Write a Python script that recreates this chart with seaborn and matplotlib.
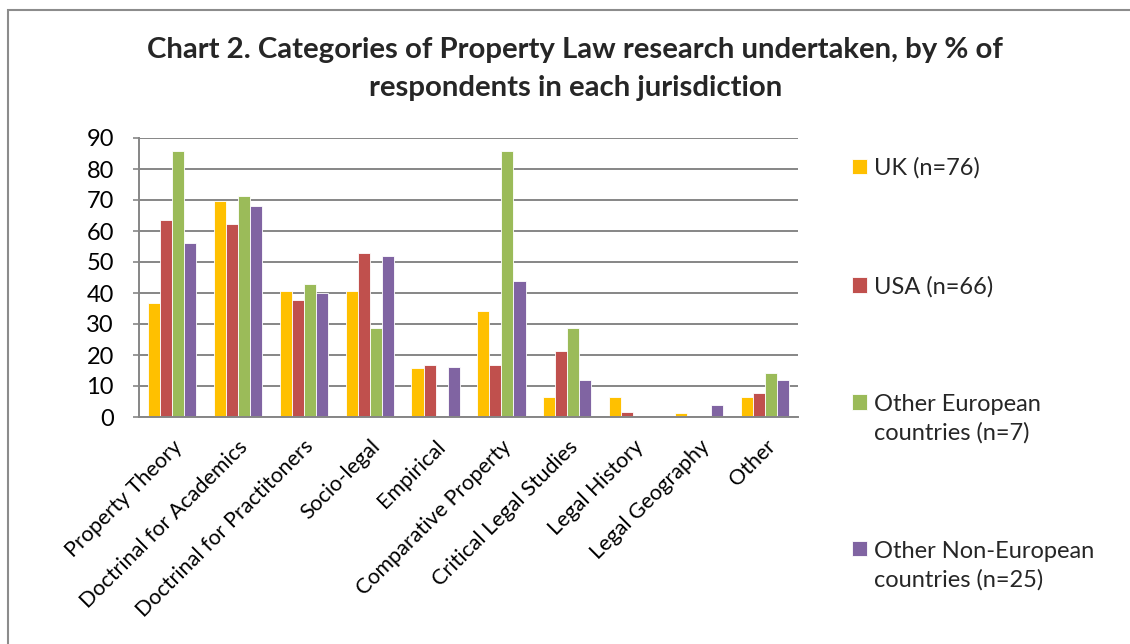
import matplotlib
matplotlib.use("Agg")
import matplotlib.pyplot as plt
from matplotlib.patches import Rectangle
import pandas as pd
import seaborn as sns

# Research categories and share of respondents (%) per jurisdiction
categories = [
    "Property Theory", "Doctrinal for Academics", "Doctrinal for Practitoners",
    "Socio-legal", "Empirical", "Comparative Property", "Critical Legal Studies",
    "Legal History", "Legal Geography", "Other",
]
uk = [36.8, 69.7, 40.8, 40.8, 15.8, 34.2, 6.6, 6.6, 1.3, 6.6]
usa = [63.6, 62.1, 37.9, 53.0, 16.7, 16.7, 21.2, 1.5, 0.0, 7.6]
other_european = [85.7, 71.4, 42.9, 28.6, 0.0, 85.7, 28.6, 0.0, 0.0, 14.3]
other_non_european = [56.0, 68.0, 40.0, 52.0, 16.0, 44.0, 12.0, 0.0, 4.0, 12.0]

series_labels = [
    "UK (n=76)",
    "USA (n=66)",
    "Other European\ncountries (n=7)",
    "Other Non-European\ncountries (n=25)",
]
palette = ["#FFC000", "#C0504D", "#9BBB59", "#8064A2"]
title = ("Chart 2. Categories of Property Law research undertaken, by % of\n"
         "respondents in each jurisdiction")

rows = []
for label, values in zip(series_labels, [uk, usa, other_european, other_non_european]):
    for cat, v in zip(categories, values):
        rows.append({"Category": cat, "Percent": v, "Jurisdiction": label})
df = pd.DataFrame(rows)

sns.set_theme(style="white")
plt.rcParams["font.family"] = ["Lato", "DejaVu Sans"]

grid_col = "#868686"

fig = plt.figure(figsize=(11.3, 6.44), dpi=100)
ax = fig.add_axes([139 / 1130, 1 - 417 / 644, 659 / 1130, 279 / 644])

sns.barplot(
    data=df, x="Category", y="Percent", hue="Jurisdiction",
    order=categories, hue_order=series_labels, palette=palette,
    width=0.73, saturation=1, edgecolor="white", linewidth=0.6,
    errorbar=None, ax=ax,
)

ax.set_xlim(-0.5, len(categories) - 0.5)
ax.set_ylim(0, 90)
ax.set_yticks(range(0, 91, 10))
ax.yaxis.grid(True, color=grid_col, linewidth=1.4)
ax.set_axisbelow(True)
ax.set_xlabel("")
ax.set_ylabel("")

for side in ["top", "right"]:
    ax.spines[side].set_visible(False)
for side in ["left", "bottom"]:
    ax.spines[side].set_color(grid_col)
    ax.spines[side].set_linewidth(1.4)

ax.tick_params(axis="y", labelsize=17, length=4, color=grid_col, width=1.2,
               left=True, pad=14, labelcolor="black")
ax.tick_params(axis="x", labelsize=15.5, length=0, pad=14, labelcolor="black")
for lab in ax.get_xticklabels():
    lab.set_rotation(45)
    lab.set_ha("right")
    lab.set_rotation_mode("anchor")

# Legend on the right, entries spread down the height of the plot
handles, labels = ax.get_legend_handles_labels()
ax.get_legend().remove()
leg = fig.legend(
    handles, labels, loc="upper left",
    bbox_to_anchor=(843 / 1130, 1 - 148 / 644),
    frameon=False, fontsize=17, handlelength=0.62, handleheight=0.62,
    handletextpad=0.3, labelspacing=4.1, borderaxespad=0,
)
for text in leg.get_texts():
    text.set_linespacing(1.42)

# Chart frame
fig.add_artist(Rectangle((8 / 1130, -0.1), 1.2, 1 - 10 / 644 + 0.1,
                         transform=fig.transFigure, fill=False,
                         edgecolor="#8c8c8c", linewidth=1.5))

fig.text(0.509, 1 - 69 / 644, title, ha="center", va="center",
         fontsize=21.2, fontweight="bold", linespacing=1.55)

fig.canvas.draw()
# Align the colour swatch with the first line of two-line entries
for text, handle in zip(leg.get_texts(), leg.legend_handles):
    n_lines = text.get_text().count("\n") + 1
    if n_lines > 1:
        bb = text.get_window_extent()
        shift = bb.height / n_lines * (n_lines - 1) / 2
        handle.set_y(handle.get_y() + shift)

fig.savefig("out.png", dpi=100)
